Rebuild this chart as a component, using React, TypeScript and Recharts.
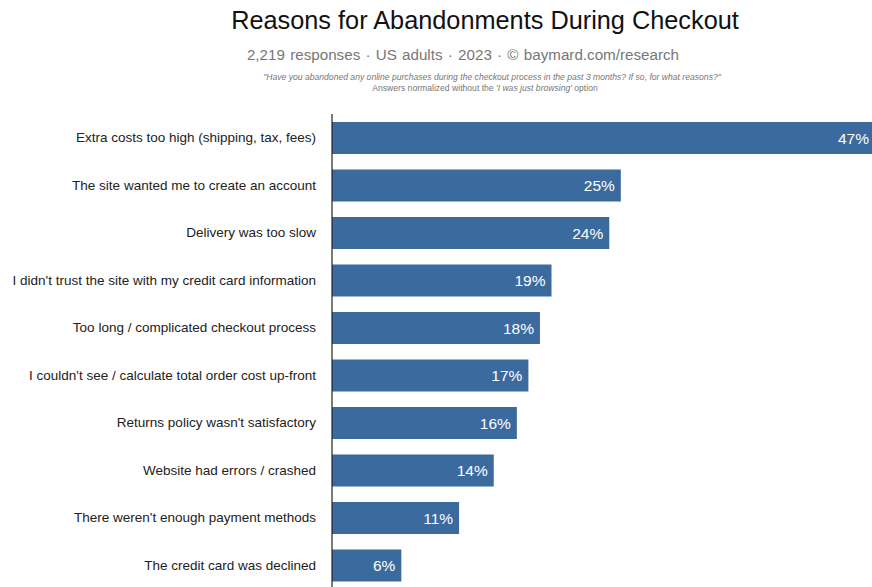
import React from "react";
import { BarChart, Bar, XAxis, YAxis, LabelList } from "recharts";

const reasons = [
  "Extra costs too high (shipping, tax, fees)",
  "The site wanted me to create an account",
  "Delivery was too slow",
  "I didn't trust the site with my credit card information",
  "Too long / complicated checkout process",
  "I couldn't see / calculate total order cost up-front",
  "Returns policy wasn't satisfactory",
  "Website had errors / crashed",
  "There weren't enough payment methods",
  "The credit card was declined",
];

const shares = [47, 25, 24, 19, 18, 17, 16, 14, 11, 6];

const data = reasons.map((name, i) => ({ name, value: shares[i] }));

const font = "'Liberation Sans', Arial, Helvetica, sans-serif";

// plain one-line tick so long reasons don't wrap
const ReasonTick = (props: any) => {
  const { x, y, payload } = props;
  return (
    <text
      x={x - 8}
      y={y}
      dy={4.5}
      textAnchor="end"
      fill="#222"
      fontSize={13.5}
      fontFamily={font}
    >
      {payload.value}
    </text>
  );
};

export default function App() {
  return (
    <div
      style={{
        position: "absolute",
        left: 0,
        top: 0,
        width: 872,
        height: 587,
        overflow: "hidden",
        background: "#fff",
        fontFamily: font,
      }}
    >
      <div
        style={{
          position: "absolute",
          top: 6,
          left: 0,
          width: 970,
          textAlign: "center",
          fontSize: 25.3,
          color: "#111",
        }}
      >
        Reasons for Abandonments During Checkout
      </div>
      <div
        style={{
          position: "absolute",
          top: 46,
          left: 0,
          width: 926,
          textAlign: "center",
          fontSize: 15.2,
          color: "#777",
          wordSpacing: 1,
        }}
      >
        2,219 responses · US adults · 2023 · © baymard.com/research
      </div>
      <div
        style={{
          position: "absolute",
          top: 72,
          left: 0,
          width: 984,
          textAlign: "center",
          fontSize: 8.6,
          color: "#777",
          fontStyle: "italic",
        }}
      >
        "Have you abandoned any online purchases during the checkout process in the past 3 months? If so, for what reasons?"
      </div>
      <div
        style={{
          position: "absolute",
          top: 83,
          left: 0,
          width: 970,
          textAlign: "center",
          fontSize: 8.6,
          color: "#777",
        }}
      >
        Answers normalized without the <i>'I was just browsing'</i> option
      </div>
      <div style={{ position: "absolute", left: 0, top: 0 }}>
        <BarChart
          width={880}
          height={600}
          data={data}
          layout="vertical"
          margin={{ top: 114, right: 5, bottom: 11, left: 0 }}
          barSize={32}
        >
          <XAxis type="number" domain={[0, 47]} hide />
          <YAxis
            type="category"
            dataKey="name"
            width={332}
            tickLine={false}
            axisLine={{ stroke: "#222", strokeWidth: 1.2 }}
            tick={<ReasonTick />}
            interval={0}
          />
          <Bar dataKey="value" fill="#3b6a9f" isAnimationActive={false}>
            <LabelList
              dataKey="value"
              position="insideRight"
              offset={6}
              formatter={(v: number) => `${v}%`}
              style={{ fill: "#fff", fontSize: 15.5, fontFamily: font }}
            />
          </Bar>
        </BarChart>
      </div>
    </div>
  );
}
